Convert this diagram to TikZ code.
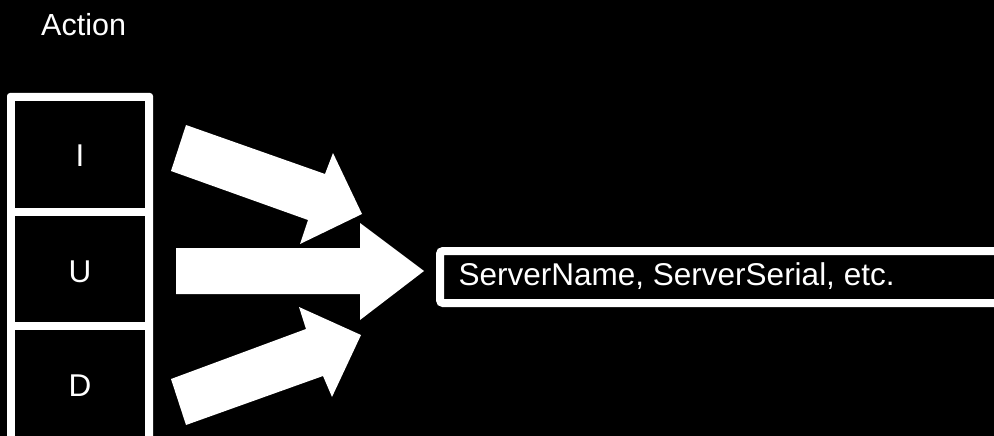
\documentclass[tikz,border=0pt]{standalone}
\usepackage{fontspec}
\setmainfont{Liberation Sans}
\begin{document}
\begin{tikzpicture}[x=1pt,y=-1pt,
  txt/.style={text=white,font=\fontsize{31.5}{38}\selectfont},
  cell/.style={txt,minimum width=130pt,minimum height=100pt,inner sep=0pt},
  blockarrow/.style={fill=white}]
\fill[black] (0,0) rectangle (994,436);
\useasboundingbox (0,0) rectangle (994,436);
\clip (0,0) rectangle (994,436);
% table frame
\fill[white,rounded corners=3pt] (7,93) rectangle (153,460);
\fill[black] (15,101) rectangle (145,208);
\fill[black] (15,216) rectangle (145,322);
\fill[black] (15,330) rectangle (145,460);
\node[cell] (I) at (80,156) {I};
\node[cell] (U) at (80,271.5) {U};
\node[cell] (D) at (80,386) {D};
% header
\node[txt,font=\fontsize{30.5}{37}\selectfont,anchor=base west,inner sep=0pt] (act) at (41,36) {Action};
% target box
\draw[white,line width=8pt,fill=black,rounded corners=3pt] (440,251) rectangle (1010,303);
\node[txt,anchor=base west,inner sep=0pt] (srv) at (458.5,285) {ServerName, ServerSerial, etc.};
% block arrows
\fill[blockarrow] (186,125) -- (325,174) -- (333,153) -- (362,214) -- (300,244) -- (308,220) -- (171,171) -- cycle;
\fill[blockarrow] (176,248) -- (360,248) -- (360,223) -- (424,271) -- (360,320) -- (360,294) -- (176,294) -- cycle;
\fill[blockarrow] (171,379) -- (306,329) -- (299,307) -- (361,335) -- (332,397) -- (323,376) -- (186,425) -- cycle;
\end{tikzpicture}
\end{document}
